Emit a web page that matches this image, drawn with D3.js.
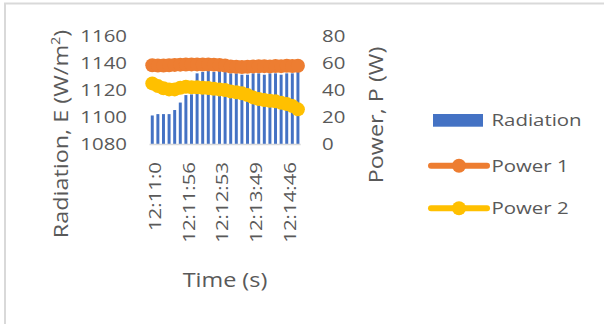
<!DOCTYPE html>
<html><head><meta charset="utf-8">
<script src="https://cdn.jsdelivr.net/npm/d3@7"></script>
<style>
body{margin:0;background:#fff}
text{font-family:"Open Sans",sans-serif;fill:#595959}
</style></head>
<body><svg id="c" width="604" height="324"></svg>
<script>
const categories=["12:11:0","12:11:9","12:11:18","12:11:28","12:11:37","12:11:47","12:11:56","12:12:5","12:12:15","12:12:24","12:12:34","12:12:43","12:12:53","12:13:2","12:13:11","12:13:21","12:13:30","12:13:40","12:13:49","12:13:59","12:14:8","12:14:17","12:14:27","12:14:36","12:14:46","12:14:55","12:15:4"];
const radiation=[1101,1102,1102,1102,1105,1110.5,1116,1116.5,1132,1133,1134,1133,1134,1133,1132,1132,1131,1131,1132,1132,1131,1132,1132,1131,1132,1132,1133];
const power1=[58.0,57.8,57.8,58.0,58.2,58.4,58.5,58.6,58.6,58.5,58.6,58.4,58.2,57.8,57.0,56.8,56.7,56.9,57.1,57.2,57.3,57.1,57.4,57.3,57.5,57.4,57.6];
const power2=[44.6,42.6,41.0,40.2,40.2,41.4,42.1,41.7,41.7,41.4,41.2,40.7,40.2,39.7,38.7,38.0,37.3,36.0,34.3,33.1,32.4,31.8,31.4,30.4,29.4,27.9,25.5];
const leftTicks=[1080,1100,1120,1140,1160];
const rightTicks=[0,20,40,60,80];
const xTickEvery=6;
const seriesNames=["Radiation","Power 1","Power 2"];
const colors={rad:"#4472C4",p1:"#ED7D31",p2:"#FFC000"};

const svg=d3.select("#c");
const K=1.2;
function stretch(sel){sel.each(function(){const L=this.getComputedTextLength();d3.select(this).attr("textLength",L*K).attr("lengthAdjust","spacingAndGlyphs");});}

// border
svg.append("rect").attr("x",5).attr("y",3.5).attr("width",800).attr("height",600)
  .attr("fill","none").attr("stroke","#d9d9d9").attr("stroke-width",2);

const x=d3.scaleBand().domain(categories).range([149.5,300.7]).paddingInner(0.47).paddingOuter(0.23);
const yL=d3.scaleLinear().domain([1080,1160]).range([144,35.3]);
const yR=d3.scaleLinear().domain([0,80]).range([144,35.3]);
const cx=c=>x(c)+x.bandwidth()/2;

// bars
svg.append("g").selectAll("rect").data(categories).join("rect")
  .attr("x",c=>x(c)).attr("width",x.bandwidth())
  .attr("y",(c,i)=>yL(radiation[i])).attr("height",(c,i)=>yL(1080)-yL(radiation[i]))
  .attr("fill",colors.rad);

// baseline
svg.append("line").attr("x1",149.5).attr("x2",300.7).attr("y1",144.5).attr("y2",144.5)
  .attr("stroke","#d9d9d9").attr("stroke-width",1.5);

function series(vals,col){
  const line=d3.line().x((d,i)=>cx(categories[i])).y(d=>yR(d));
  svg.append("path").datum(vals).attr("d",line).attr("fill","none").attr("stroke",col).attr("stroke-width",5);
  svg.append("g").selectAll("circle").data(vals).join("circle")
    .attr("cx",(d,i)=>cx(categories[i])).attr("cy",d=>yR(d)).attr("r",7).attr("fill",col);
}
series(power2,colors.p2);
series(power1,colors.p1);

// left axis
const gl=svg.append("g").attr("transform","translate(149.5,0)")
  .call(d3.axisLeft(yL).tickValues(leftTicks).tickFormat(d3.format("d")).tickSize(0).tickPadding(22.5));
gl.select(".domain").remove();
gl.selectAll("text").attr("font-size",17).attr("font-family","Open Sans").attr("fill","#595959").attr("dy","0.35em").call(stretch);

// right axis
const gr=svg.append("g").attr("transform","translate(300.7,0)")
  .call(d3.axisRight(yR).tickValues(rightTicks).tickFormat(d3.format("d")).tickSize(0).tickPadding(21.3));
gr.select(".domain").remove();
gr.selectAll("text").attr("font-size",17).attr("font-family","Open Sans").attr("fill","#595959").attr("dy","0.35em").call(stretch);

// bottom axis
const gb=svg.append("g").attr("transform","translate(0,144)")
  .call(d3.axisBottom(x).tickValues(categories.filter((c,i)=>i%xTickEvery===0)).tickSize(0));
gb.select(".domain").remove();
gb.selectAll("text").attr("font-size",17).attr("font-family","Open Sans").attr("fill","#595959")
  .attr("text-anchor","end").attr("transform","rotate(-90)").attr("x",-18).attr("y",9).attr("dy",0).call(stretch);

// axis titles
const tl=svg.append("text").attr("transform","translate(68,134) rotate(-90)").attr("text-anchor","middle").attr("font-size",19.5);
tl.append("tspan").text("Radiation, E (W/m");
tl.append("tspan").attr("font-size",12).attr("dy",-8).text("2");
tl.append("tspan").attr("dy",8).text(")");
tl.call(stretch);
svg.append("text").attr("transform","translate(383,115) rotate(-90)").attr("text-anchor","middle").attr("font-size",19.5)
  .text("Power, P (W)").call(stretch);
svg.append("text").attr("x",225).attr("y",287).attr("text-anchor","middle").attr("font-size",19.5)
  .text("Time (s)").call(stretch);

// legend
const lg=svg.append("g");
lg.append("rect").attr("x",433).attr("y",114).attr("width",50).attr("height",12.7).attr("fill",colors.rad);
const legY=[120.5,165.7,208.3];
[[colors.p1,legY[1]],[colors.p2,legY[2]]].forEach(([col,y])=>{
  lg.append("line").attr("x1",431).attr("x2",487).attr("y1",y).attr("y2",y).attr("stroke",col).attr("stroke-width",6).attr("stroke-linecap","round");
  lg.append("circle").attr("cx",459).attr("cy",y).attr("r",7).attr("fill",col);
});
lg.selectAll("text.l").data(seriesNames).join("text").attr("class","l")
  .attr("x",491.5).attr("y",(d,i)=>legY[i]).attr("dy","0.35em").attr("font-size",17).text(d=>d).call(stretch);
</script></body></html>
